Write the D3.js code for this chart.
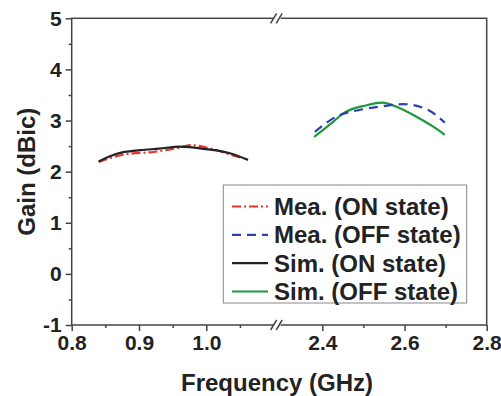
<!DOCTYPE html>
<html>
<head>
<meta charset="utf-8">
<script src="https://cdn.jsdelivr.net/npm/d3@7"></script>
<style>
  body { margin: 0; background: #fff; }
  text { font-family: "Liberation Sans", Arial, sans-serif; font-weight: bold; fill: #222; }
</style>
</head>
<body>
<div id="chart"></div>
<script>
// Gain vs frequency, broken x axis

const meaOnX  = [0.84, 0.876, 0.924, 0.96, 0.976, 1.01, 1.044, 1.055];
const meaOnY  = [2.19, 2.33, 2.39, 2.47, 2.52, 2.44, 2.30, 2.26];
const simOnX  = [0.84, 0.867, 0.902, 0.93, 0.961, 1.0, 1.035, 1.062];
const simOnY  = [2.20, 2.35, 2.42, 2.45, 2.49, 2.44, 2.36, 2.23];
const meaOffX = [2.382, 2.435, 2.492, 2.548, 2.597, 2.654, 2.698];
const meaOffY = [2.78, 3.08, 3.21, 3.28, 3.32, 3.22, 2.96];
const simOffX = [2.38, 2.427, 2.451, 2.508, 2.545, 2.589, 2.63, 2.67, 2.698];
const simOffY = [2.68, 2.98, 3.14, 3.30, 3.35, 3.24, 3.07, 2.88, 2.72];

const leftTicks  = [0.8, 0.9, 1.0];
const leftMinor  = [0.85, 0.95, 1.05];
const rightTicks = [2.4, 2.6, 2.8];
const rightMinor = [2.5, 2.7];
const yTicks = [-1, 0, 1, 2, 3, 4, 5];
const yMinor = [-0.5, 0.5, 1.5, 2.5, 3.5, 4.5];

const legendNames = ["Mea. (ON state)", "Mea. (OFF state)", "Sim. (ON state)", "Sim. (OFF state)"];

const W = 501, H = 396;
const pL = 71.7, pR = 486.7, pT = 18.3, pB = 325;
const breakL = 273.6, breakR = 281.2;

const svg = d3.select("#chart").append("svg").attr("width", W).attr("height", H);

const xL = d3.scaleLinear().domain([0.8, 1.1]).range([pL, breakL]);
const xR = d3.scaleLinear().domain([2.3, 2.8]).range([breakR, pR]);
const y = d3.scaleLinear().domain([-1, 5]).range([pB, pT]);

const axisColor = "#444";

// frame
svg.append("rect")
  .attr("x", pL).attr("y", pT)
  .attr("width", pR - pL).attr("height", pB - pT)
  .attr("fill", "none").attr("stroke", axisColor).attr("stroke-width", 1.5);

function styleAxis(g, size) {
  g.select(".domain").remove();
  g.selectAll("line").attr("stroke", axisColor).attr("stroke-width", 1.5);
  g.selectAll("text").style("font-size", size + "px").attr("fill", "#222");
}

// x axes
[[xL, leftTicks, leftMinor], [xR, rightTicks, rightMinor]].forEach(([sc, maj, min]) => {
  svg.append("g").attr("transform", `translate(0,${pB})`)
    .call(d3.axisBottom(sc).tickValues(maj).tickSize(6).tickPadding(4).tickFormat(d3.format(".1f")))
    .call(g => styleAxis(g, 21));
  svg.append("g").attr("transform", `translate(0,${pB})`)
    .call(d3.axisBottom(sc).tickValues(min).tickSize(3).tickFormat(""))
    .call(g => styleAxis(g, 21));
});

// y axis
svg.append("g").attr("transform", `translate(${pL},0)`)
  .call(d3.axisLeft(y).tickValues(yTicks).tickSize(6).tickPadding(4).tickFormat(d => String(d)))
  .call(g => styleAxis(g, 21));
svg.append("g").attr("transform", `translate(${pL},0)`)
  .call(d3.axisLeft(y).tickValues(yMinor).tickSize(3).tickFormat(""))
  .call(g => styleAxis(g, 21));

// break marks
[pT, pB].forEach(yy => {
  svg.append("rect").attr("x", breakL + 0.5).attr("y", yy - 2).attr("width", breakR - breakL - 1).attr("height", 4).attr("fill", "#fff");
  [breakL - 0.5, breakR - 2.5].forEach(xx => {
    svg.append("line")
      .attr("x1", xx - 2.5).attr("y1", yy + 5)
      .attr("x2", xx + 3.5).attr("y2", yy - 5)
      .attr("stroke", axisColor).attr("stroke-width", 1.5);
  });
});

// series
const series = [
  { xs: meaOnX, ys: meaOnY, sc: xL, color: "#e8332a", dash: "9,3,2,3" },
  { xs: meaOffX, ys: meaOffY, sc: xR, color: "#3040b0", dash: "9,6" },
  { xs: simOnX, ys: simOnY, sc: xL, color: "#222222", dash: null },
  { xs: simOffX, ys: simOffY, sc: xR, color: "#1e9a3c", dash: null }
];

const lineGen = d3.line().curve(d3.curveMonotoneX);

[series[3], series[1], series[0], series[2]].forEach(s => {
  const pts = s.xs.map((v, i) => [s.sc(v), y(s.ys[i])]);
  svg.append("path")
    .attr("d", lineGen(pts))
    .attr("fill", "none")
    .attr("stroke", s.color)
    .attr("stroke-width", 2.2)
    .attr("stroke-dasharray", s.dash);
});

// legend
const lg = svg.append("g");
lg.append("rect")
  .attr("x", 223.3).attr("y", 185)
  .attr("width", 466.7 - 223.3).attr("height", 303 - 185)
  .attr("fill", "#fff").attr("stroke", "#888").attr("stroke-width", 1);

const rowY = d3.scalePoint().domain(legendNames).range([206.5, 291.5]);
legendNames.forEach((name, i) => {
  const s = series[i];
  const yy = rowY(name);
  lg.append("line")
    .attr("x1", 232).attr("x2", 268).attr("y1", yy).attr("y2", yy)
    .attr("stroke", s.color).attr("stroke-width", 2.2)
    .attr("stroke-dasharray", s.dash);
  lg.append("text")
    .attr("x", 274).attr("y", yy).attr("dy", "0.35em")
    .style("font-size", "24px")
    .text(name);
});

// axis titles
svg.append("text")
  .attr("x", 277).attr("y", 391)
  .attr("text-anchor", "middle")
  .style("font-size", "24px")
  .text("Frequency (GHz)");

svg.append("text")
  .attr("transform", `translate(35,${(pT + pB) / 2}) rotate(-90)`)
  .attr("text-anchor", "middle")
  .style("font-size", "24px")
  .text("Gain (dBic)");
</script>
</body>
</html>
